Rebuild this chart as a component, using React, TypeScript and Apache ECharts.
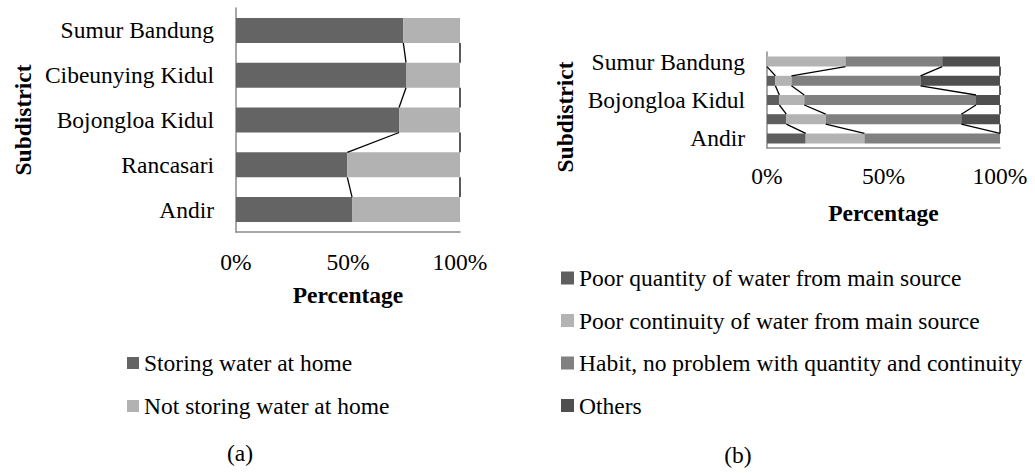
import React, { useEffect, useRef } from "react";
import * as echarts from "echarts";

// Categories (bottom to top, as drawn)
const subdistricts = ["Andir", "Rancasari", "Bojongloa Kidul", "Cibeunying Kidul", "Sumur Bandung"];

// Chart (a) – percentages
const storingWater = [51.8, 49.7, 72.8, 75.9, 74.7];
const notStoringWater = [48.2, 50.3, 27.2, 24.1, 25.3];

// Chart (b) – percentages
const poorQuantity = [16.6, 8.3, 5.3, 3.6, 0];
const poorContinuity = [25.2, 16.9, 10.7, 6.9, 33.7];
const habitNoProblem = [58.2, 58.2, 73.7, 55.4, 41.5];
const others = [0, 16.6, 10.3, 34.1, 24.8];

const namesA = ["Storing water at home", "Not storing water at home"];
const namesB = [
  "Poor quantity of water from main source",
  "Poor continuity of water from main source",
  "Habit, no problem with quantity and continuity",
  "Others",
];

const FONT = "'Liberation Serif', 'Times New Roman', serif";
const FS = 23.5;

function cumulative(seriesList: number[][]): number[][] {
  const out: number[][] = [];
  const running = seriesList[0].map(() => 0);
  for (const s of seriesList) {
    s.forEach((v, i) => (running[i] += v));
    out.push(running.slice());
  }
  return out;
}

function seriesLineData(seriesList: number[][]) {
  const cum = cumulative(seriesList);
  const data: number[][] = [];
  cum.forEach((c) => {
    for (let i = 0; i < c.length - 1; i++) data.push([c[i], i, c[i + 1]]);
  });
  return data;
}

function makeSeriesLines(data: number[][], xAxisIndex: number, yAxisIndex: number, barPx: number) {
  return {
    type: "custom",
    xAxisIndex,
    yAxisIndex,
    silent: true,
    z: 5,
    encode: { x: [0, 2], y: 1 },
    data,
    renderItem: (params: any, api: any) => {
      const i = api.value(1);
      const lower = api.coord([api.value(0), i]);
      const upper = api.coord([api.value(2), i + 1]);
      const half = barPx / 2;
      return {
        type: "line",
        shape: { x1: upper[0], y1: upper[1] + half, x2: lower[0], y2: lower[1] - half },
        style: { stroke: "#000", lineWidth: 1.3 },
      };
    },
  };
}

const BAR_A = 25;
const BAR_B = 10;

export default function App() {
  const ref = useRef<HTMLDivElement>(null);
  useEffect(() => {
    if (!ref.current) return;
    const chart = echarts.init(ref.current, null, { renderer: "svg" });
    const axisLineStyle = { color: "#8a8a8a", width: 1.5 };
    const valueAxis = (gridIndex: number, margin: number, nameGap: number) => ({
      type: "value",
      gridIndex,
      min: 0,
      max: 100,
      interval: 50,
      axisLine: { show: true, lineStyle: axisLineStyle },
      axisTick: { show: false },
      splitLine: { show: false },
      axisLabel: {
        formatter: "{value}%",
        margin,
        color: "#000",
        fontFamily: FONT,
        fontSize: FS,
      },
      name: "Percentage",
      nameLocation: "middle",
      nameGap,
      nameTextStyle: { fontFamily: FONT, fontSize: FS, fontWeight: "bold", color: "#000" },
    });
    const catAxis = (gridIndex: number, interval: number, withName: boolean) => ({
      type: "category",
      gridIndex,
      data: subdistricts,
      axisLine: { show: true, lineStyle: axisLineStyle },
      axisTick: { show: false },
      axisLabel: {
        interval,
        margin: 22,
        color: "#000",
        fontFamily: FONT,
        fontSize: FS,
      },
      name: withName ? "Subdistrict" : "",
      nameLocation: "middle",
      nameGap: 201,
      nameRotate: 90,
      nameTextStyle: { fontFamily: FONT, fontSize: FS, fontWeight: "bold", color: "#000" },
    });
    const colorsA = ["#646464", "#b2b2b2"];
    const colorsB = ["#5e5e5e", "#b3b3b3", "#808080", "#4f4f4f"];
    const seriesA = [storingWater, notStoringWater];
    const seriesB = [poorQuantity, poorContinuity, habitNoProblem, others];
    const option: any = {
      animation: false,
      textStyle: { fontFamily: FONT },
      grid: [
        { left: 236, top: 8, width: 224, height: 224 },
        { left: 767, top: 52, width: 233, height: 96 },
      ],
      xAxis: [valueAxis(0, 18, 51), valueAxis(1, 16, 53)],
      yAxis: [catAxis(0, 0, true), catAxis(1, 1, false)],
      legend: [
        {
          data: namesA,
          orient: "vertical",
          left: 122,
          top: 346,
          icon: "rect",
          itemWidth: 12,
          itemHeight: 12,
          itemGap: 19,
          textStyle: { fontFamily: FONT, fontSize: FS, color: "#000" },
        },
        {
          data: namesB,
          orient: "vertical",
          left: 556,
          top: 261,
          icon: "rect",
          itemWidth: 13,
          itemHeight: 13,
          itemGap: 18.5,
          textStyle: { fontFamily: FONT, fontSize: FS, color: "#000" },
        },
      ],
      graphic: [
        {
          type: "text",
          x: 565,
          y: 117,
          rotation: Math.PI / 2,
          style: {
            text: "Subdistrict",
            font: `bold ${FS}px 'Liberation Serif', serif`,
            fill: "#000",
            align: "center",
            verticalAlign: "middle",
          },
        },
        {
          type: "text",
          x: 240,
          y: 453,
          style: { text: "(a)", font: `${FS}px 'Liberation Serif', serif`, fill: "#000", align: "center", verticalAlign: "middle" },
        },
        {
          type: "text",
          x: 738,
          y: 455,
          style: { text: "(b)", font: `${FS}px 'Liberation Serif', serif`, fill: "#000", align: "center", verticalAlign: "middle" },
        },
      ],
      series: [
        ...seriesA.map((d, k) => ({
          type: "bar",
          name: namesA[k],
          stack: "a",
          xAxisIndex: 0,
          yAxisIndex: 0,
          barWidth: BAR_A,
          itemStyle: { color: colorsA[k] },
          data: d,
        })),
        makeSeriesLines(seriesLineData(seriesA), 0, 0, BAR_A),
        ...seriesB.map((d, k) => ({
          type: "bar",
          name: namesB[k],
          stack: "b",
          xAxisIndex: 1,
          yAxisIndex: 1,
          barWidth: BAR_B,
          itemStyle: { color: colorsB[k] },
          data: d,
        })),
        makeSeriesLines(seriesLineData(seriesB), 1, 1, BAR_B),
      ],
    };
    chart.setOption(option);
    return () => chart.dispose();
  }, []);
  return (
    <div
      ref={ref}
      style={{ position: "fixed", left: 0, top: 0, width: 1035, height: 473, background: "#fff" }}
    />
  );
}
